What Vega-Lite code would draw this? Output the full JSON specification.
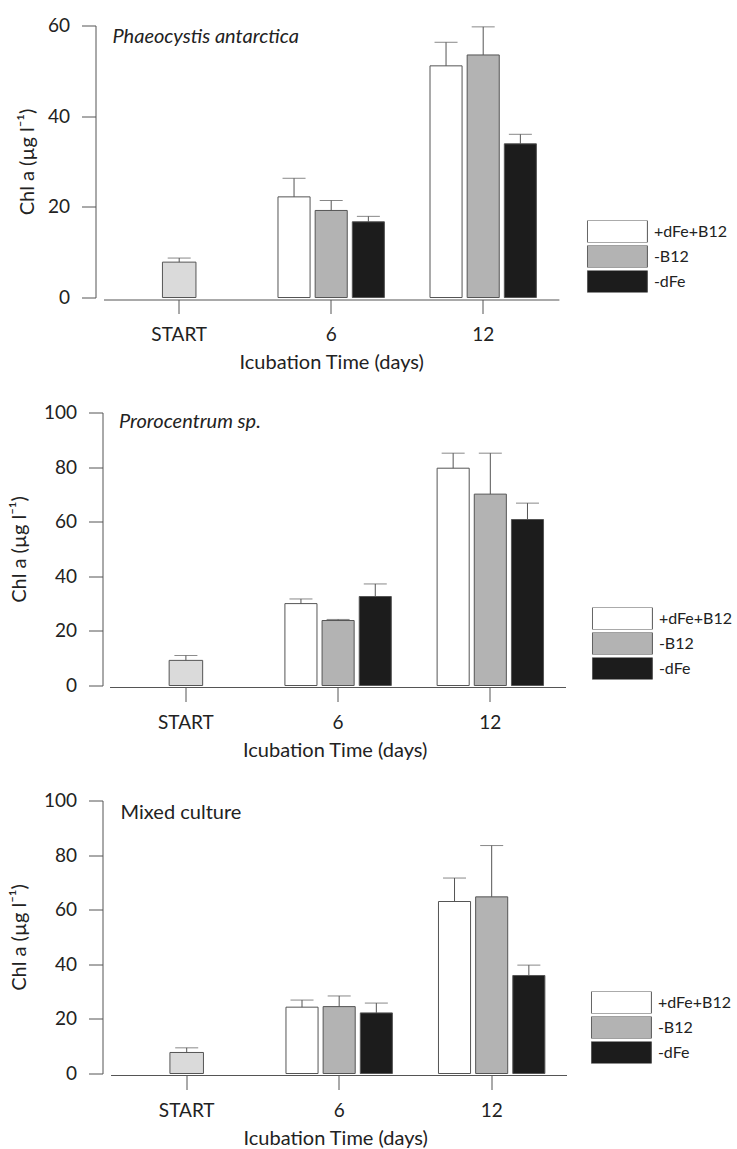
{
  "$schema": "https://vega.github.io/schema/vega-lite/v6.json",
  "padding": {"top": 16.5, "left": 8.5, "right": 0, "bottom": 0},
  "background": "white",
  "config": {
    "font": "Lato",
    "view": {"stroke": null},
    "axis": {
      "domainColor": "#555555",
      "tickColor": "#555555",
      "labelColor": "#222222",
      "titleColor": "#222222",
      "labelFontSize": 19,
      "titleFontSize": 20,
      "titleFontWeight": "normal",
      "grid": false
    },
    "axisY": {"offset": 1, "tickSize": 14, "labelPadding": 12, "titlePadding": 14},
    "axisX": {"offset": 2, "tickSize": 14, "labelPadding": 12, "titlePadding": 8, "labelAngle": 0, "bandPosition": 0.5},
    "legend": {
      "orient": "none",
      "title": null,
      "padding": 0,
      "symbolType": "M-1,-0.3667H1V0.3667H-1Z",
      "symbolSize": 3600,
      "clipHeight": 22,
      "symbolStrokeColor": "#555555",
      "symbolStrokeWidth": 1,
      "symbolOpacity": 1,
      "labelFontSize": 16,
      "labelColor": "#222222",
      "labelOffset": 6,
      "rowPadding": 3
    },
    "title": {"fontWeight": "normal", "fontSize": 20, "color": "#222222", "anchor": "start", "frame": "group", "baseline": "alphabetic"}
  },
  "datasets": {
    "chl": [
      {"culture": "Phaeocystis antarctica", "time": "START", "treatment": "START", "mean": 7.8, "upper": 8.7},
      {"culture": "Phaeocystis antarctica", "time": "6", "treatment": "+dFe+B12", "mean": 22.2, "upper": 26.3},
      {"culture": "Phaeocystis antarctica", "time": "6", "treatment": "-B12", "mean": 19.2, "upper": 21.4},
      {"culture": "Phaeocystis antarctica", "time": "6", "treatment": "-dFe", "mean": 16.7, "upper": 17.9},
      {"culture": "Phaeocystis antarctica", "time": "12", "treatment": "+dFe+B12", "mean": 51.1, "upper": 56.3},
      {"culture": "Phaeocystis antarctica", "time": "12", "treatment": "-B12", "mean": 53.5, "upper": 59.7},
      {"culture": "Phaeocystis antarctica", "time": "12", "treatment": "-dFe", "mean": 33.9, "upper": 36.0},
      {"culture": "Prorocentrum sp.", "time": "START", "treatment": "START", "mean": 9.2, "upper": 11.0},
      {"culture": "Prorocentrum sp.", "time": "6", "treatment": "+dFe+B12", "mean": 30.0, "upper": 31.7},
      {"culture": "Prorocentrum sp.", "time": "6", "treatment": "-B12", "mean": 23.8, "upper": 24.2},
      {"culture": "Prorocentrum sp.", "time": "6", "treatment": "-dFe", "mean": 32.6, "upper": 37.2},
      {"culture": "Prorocentrum sp.", "time": "12", "treatment": "+dFe+B12", "mean": 79.6, "upper": 85.1},
      {"culture": "Prorocentrum sp.", "time": "12", "treatment": "-B12", "mean": 70.1, "upper": 85.1},
      {"culture": "Prorocentrum sp.", "time": "12", "treatment": "-dFe", "mean": 60.8, "upper": 66.8},
      {"culture": "Mixed culture", "time": "START", "treatment": "START", "mean": 7.7, "upper": 9.4},
      {"culture": "Mixed culture", "time": "6", "treatment": "+dFe+B12", "mean": 24.3, "upper": 26.9},
      {"culture": "Mixed culture", "time": "6", "treatment": "-B12", "mean": 24.5, "upper": 28.4},
      {"culture": "Mixed culture", "time": "6", "treatment": "-dFe", "mean": 22.2, "upper": 25.8},
      {"culture": "Mixed culture", "time": "12", "treatment": "+dFe+B12", "mean": 63.0, "upper": 71.6},
      {"culture": "Mixed culture", "time": "12", "treatment": "-B12", "mean": 64.7, "upper": 83.5},
      {"culture": "Mixed culture", "time": "12", "treatment": "-dFe", "mean": 35.9, "upper": 39.7}
    ]
  },
  "spacing": 31,
  "resolve": {"scale": {"fill": "independent", "y": "independent", "x": "independent"}, "legend": {"fill": "independent"}},
  "vconcat": [
    {
      "width": 455.4,
      "height": 272,
      "title": {"text": "Phaeocystis antarctica", "fontStyle": "italic", "offset": -30, "dx": 9},
      "data": {"name": "chl"},
      "transform": [{"filter": "datum.culture === 'Phaeocystis antarctica'"}],
      "encoding": {
        "x": {"field": "time", "type": "nominal", "sort": ["START", "6", "12"],
              "scale": {"domain": ["START", "6", "12"], "paddingInner": 0.3, "paddingOuter": 0.148},
              "axis": {"title": "Icubation Time (days)"}},
        "y": {"field": "mean", "type": "quantitative",
              "scale": {"domain": [0, 60], "nice": false},
              "axis": {"values": [0, 20, 40, 60], "title": "Chl a (µg l⁻¹)", "offset": 8, "titlePadding": 10, "labelPadding": 12}}
      },
      "layer": [
        {
          "transform": [{"filter": "datum.treatment !== 'START'"}],
          "mark": {"type": "bar", "stroke": "#555555", "strokeWidth": 1},
          "encoding": {
            "xOffset": {"field": "treatment", "type": "nominal", "scale": {"domain": ["+dFe+B12", "-B12", "-dFe"], "paddingInner": 0.137, "paddingOuter": 0}},
            "fill": {"field": "treatment", "type": "nominal",
                     "scale": {"domain": ["+dFe+B12", "-B12", "-dFe"], "range": ["#ffffff", "#b3b3b3", "#1c1c1c"]},
                     "legend": {"legendX": 483.4, "legendY": 195}}
          }
        },
        {
          "transform": [{"filter": "datum.treatment === 'START'"}],
          "mark": {"type": "bar", "fill": "#dadada", "stroke": "#555555", "strokeWidth": 1, "width": {"band": 0.315}},
          "encoding": {}
        },
        {
          "transform": [{"filter": "datum.treatment !== 'START'"}],
          "mark": {"type": "rule", "color": "#555555", "strokeWidth": 1},
          "encoding": {"xOffset": {"field": "treatment", "type": "nominal"}, "y2": {"field": "upper"}}
        },
        {
          "transform": [{"filter": "datum.treatment !== 'START'"}],
          "mark": {"type": "tick", "color": "#555555", "thickness": 1, "size": 23},
          "encoding": {"xOffset": {"field": "treatment", "type": "nominal"}, "y": {"field": "upper", "type": "quantitative"}}
        },
        {
          "transform": [{"filter": "datum.treatment === 'START'"}],
          "mark": {"type": "rule", "color": "#555555", "strokeWidth": 1},
          "encoding": {"y2": {"field": "upper"}}
        },
        {
          "transform": [{"filter": "datum.treatment === 'START'"}],
          "mark": {"type": "tick", "color": "#555555", "thickness": 1, "size": 23},
          "encoding": {"y": {"field": "upper", "type": "quantitative"}}
        }
      ]
    },
    {
      "width": 462.4,
      "height": 273,
      "title": {"text": "Prorocentrum sp.", "fontStyle": "italic", "offset": -28.5, "dx": 15.4},
      "data": {"name": "chl"},
      "transform": [{"filter": "datum.culture === 'Prorocentrum sp.'"}],
      "encoding": {
        "x": {"field": "time", "type": "nominal", "sort": ["START", "6", "12"],
              "scale": {"domain": ["START", "6", "12"], "paddingInner": 0.301, "paddingOuter": 0.1695, "align": 0.566},
              "axis": {"title": "Icubation Time (days)", "domain": false}},
        "y": {"field": "mean", "type": "quantitative",
              "scale": {"domain": [0, 100], "nice": false},
              "axis": {"values": [0, 20, 40, 60, 80, 100], "title": "Chl a (µg l⁻¹)"}}
      },
      "layer": [
        {
          "mark": {"type": "rule", "color": "#555555", "strokeWidth": 1, "yOffset": 2},
          "encoding": {
            "x": {"datum": "START", "bandPosition": -0.2077},
            "x2": {"datum": "12", "bandPosition": 1.2105},
            "y": {"datum": 0}
          }
        },
        {
          "transform": [{"filter": "datum.treatment !== 'START'"}],
          "mark": {"type": "bar", "stroke": "#555555", "strokeWidth": 1},
          "encoding": {
            "xOffset": {"field": "treatment", "type": "nominal", "scale": {"domain": ["+dFe+B12", "-B12", "-dFe"], "paddingInner": 0.137, "paddingOuter": 0}},
            "fill": {"field": "treatment", "type": "nominal",
                     "scale": {"domain": ["+dFe+B12", "-B12", "-dFe"], "range": ["#ffffff", "#b3b3b3", "#1c1c1c"]},
                     "legend": {"legendX": 488.4, "legendY": 195}}
          }
        },
        {
          "transform": [{"filter": "datum.treatment === 'START'"}],
          "mark": {"type": "bar", "fill": "#dadada", "stroke": "#555555", "strokeWidth": 1, "width": {"band": 0.315}},
          "encoding": {}
        },
        {
          "transform": [{"filter": "datum.treatment !== 'START'"}],
          "mark": {"type": "rule", "color": "#555555", "strokeWidth": 1},
          "encoding": {"xOffset": {"field": "treatment", "type": "nominal"}, "y2": {"field": "upper"}}
        },
        {
          "transform": [{"filter": "datum.treatment !== 'START'"}],
          "mark": {"type": "tick", "color": "#555555", "thickness": 1, "size": 23},
          "encoding": {"xOffset": {"field": "treatment", "type": "nominal"}, "y": {"field": "upper", "type": "quantitative"}}
        },
        {
          "transform": [{"filter": "datum.treatment === 'START'"}],
          "mark": {"type": "rule", "color": "#555555", "strokeWidth": 1},
          "encoding": {"y2": {"field": "upper"}}
        },
        {
          "transform": [{"filter": "datum.treatment === 'START'"}],
          "mark": {"type": "tick", "color": "#555555", "thickness": 1, "size": 23},
          "encoding": {"y": {"field": "upper", "type": "quantitative"}}
        }
      ]
    },
    {
      "width": 463.4,
      "height": 273,
      "title": {"text": "Mixed culture", "offset": -31.5, "dx": 17.1},
      "data": {"name": "chl"},
      "transform": [{"filter": "datum.culture === 'Mixed culture'"}],
      "encoding": {
        "x": {"field": "time", "type": "nominal", "sort": ["START", "6", "12"],
              "scale": {"domain": ["START", "6", "12"], "paddingInner": 0.302, "paddingOuter": 0.1703, "align": 0.577},
              "axis": {"title": "Icubation Time (days)", "domain": false}},
        "y": {"field": "mean", "type": "quantitative",
              "scale": {"domain": [0, 100], "nice": false},
              "axis": {"values": [0, 20, 40, 60, 80, 100], "title": "Chl a (µg l⁻¹)"}}
      },
      "layer": [
        {
          "mark": {"type": "rule", "color": "#555555", "strokeWidth": 1, "yOffset": 2},
          "encoding": {
            "x": {"datum": "START", "bandPosition": -0.2049},
            "x2": {"datum": "12", "bandPosition": 1.2068},
            "y": {"datum": 0}
          }
        },
        {
          "transform": [{"filter": "datum.treatment !== 'START'"}],
          "mark": {"type": "bar", "stroke": "#555555", "strokeWidth": 1},
          "encoding": {
            "xOffset": {"field": "treatment", "type": "nominal", "scale": {"domain": ["+dFe+B12", "-B12", "-dFe"], "paddingInner": 0.137, "paddingOuter": 0}},
            "fill": {"field": "treatment", "type": "nominal",
                     "scale": {"domain": ["+dFe+B12", "-B12", "-dFe"], "range": ["#ffffff", "#b3b3b3", "#1c1c1c"]},
                     "legend": {"legendX": 487.4, "legendY": 191}}
          }
        },
        {
          "transform": [{"filter": "datum.treatment === 'START'"}],
          "mark": {"type": "bar", "fill": "#dadada", "stroke": "#555555", "strokeWidth": 1, "width": {"band": 0.315}},
          "encoding": {}
        },
        {
          "transform": [{"filter": "datum.treatment !== 'START'"}],
          "mark": {"type": "rule", "color": "#555555", "strokeWidth": 1},
          "encoding": {"xOffset": {"field": "treatment", "type": "nominal"}, "y2": {"field": "upper"}}
        },
        {
          "transform": [{"filter": "datum.treatment !== 'START'"}],
          "mark": {"type": "tick", "color": "#555555", "thickness": 1, "size": 23},
          "encoding": {"xOffset": {"field": "treatment", "type": "nominal"}, "y": {"field": "upper", "type": "quantitative"}}
        },
        {
          "transform": [{"filter": "datum.treatment === 'START'"}],
          "mark": {"type": "rule", "color": "#555555", "strokeWidth": 1},
          "encoding": {"y2": {"field": "upper"}}
        },
        {
          "transform": [{"filter": "datum.treatment === 'START'"}],
          "mark": {"type": "tick", "color": "#555555", "thickness": 1, "size": 23},
          "encoding": {"y": {"field": "upper", "type": "quantitative"}}
        }
      ]
    }
  ]
}
